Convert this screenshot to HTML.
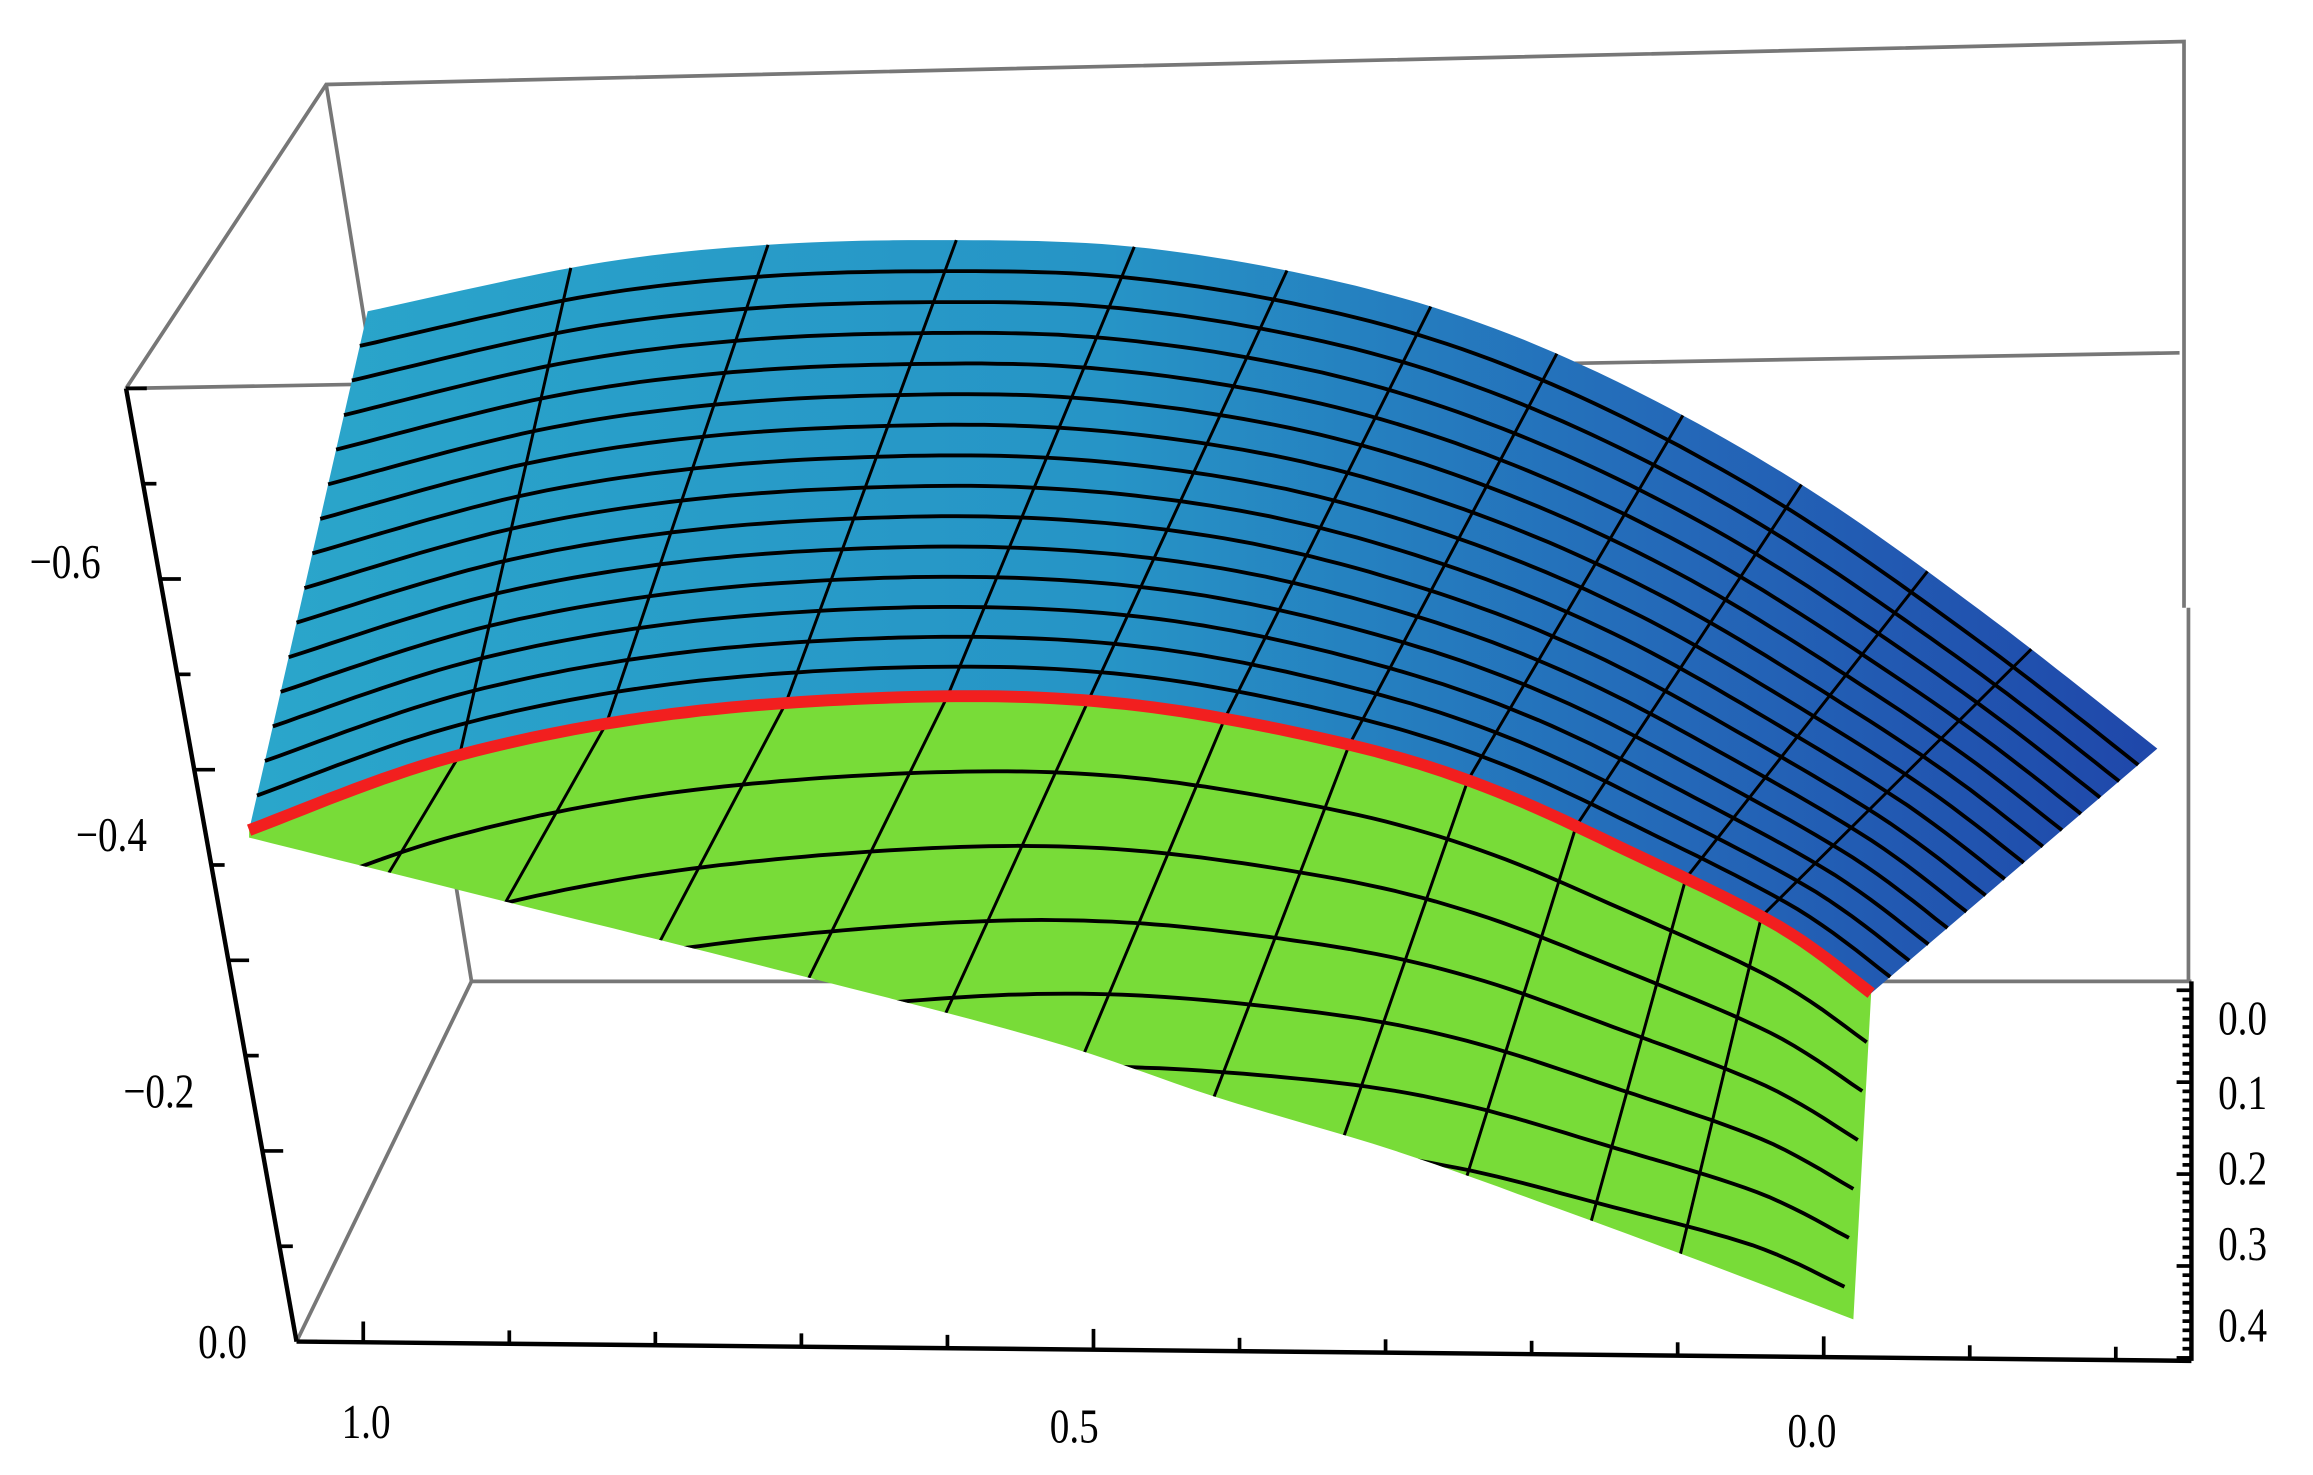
<!DOCTYPE html>
<html><head><meta charset="utf-8"><style>
html,body{margin:0;padding:0;background:#fff;}
svg{display:block;}
text{font-family:"Liberation Serif",serif;font-size:33px;fill:#000;}
</style></head><body>
<svg id="s" width="2313" height="1475" viewBox="0 0 1560 995" preserveAspectRatio="none" xmlns="http://www.w3.org/2000/svg">
<defs>
<linearGradient id="bg" x1="0" y1="0" x2="1" y2="0">
<stop offset="0" stop-color="#2aa6cb"/><stop offset="0.45" stop-color="#2694c6"/><stop offset="0.75" stop-color="#2468b8"/><stop offset="1" stop-color="#1f47aa"/>
</linearGradient>
<clipPath id="gc"><polygon id="gcp" points=""/></clipPath>
</defs>
<g stroke="#777" stroke-width="2.5" fill="none">
<polyline points="85,262 220,57 1473,28 1473,410"/>
<line x1="1476" y1="410" x2="1476" y2="662"/>
<line x1="85" y1="262" x2="1470" y2="238"/>
<line x1="220" y1="57" x2="318" y2="662"/>
<line x1="318" y1="662" x2="1478" y2="662"/>
<line x1="318" y1="662" x2="200" y2="905"/>
</g>
<g id="surf"></g>
<g stroke="#000" stroke-width="3" fill="none">
<line x1="85" y1="262" x2="200" y2="905"/>
<line x1="200" y1="905" x2="1478" y2="918"/>
<line x1="1478" y1="662" x2="1478" y2="918"/>
</g>
<g id="ticks" stroke="#000" stroke-width="2.5"></g>
<g transform="scale(0.8,1)">
<text x="25" y="390">−0.6</text>
<text x="64" y="574">−0.4</text>
<text x="104" y="747">−0.2</text>
<text x="167" y="916">0.0</text>
<text x="288" y="970">1.0</text>
<text x="885" y="973">0.5</text>
<text x="1507" y="976">0.0</text>
<text x="1870" y="698">0.0</text>
<text x="1870" y="748">0.1</text>
<text x="1870" y="799">0.2</text>
<text x="1870" y="850">0.3</text>
<text x="1870" y="905">0.4</text>
</g>
</svg>
<script>
(function(){
const NS="http://www.w3.org/2000/svg";
function cr(p,n){
  const o=[];const m=p.length-1;
  for(let i=0;i<m;i++){const p0=p[Math.max(i-1,0)],p1=p[i],p2=p[i+1],p3=p[Math.min(i+2,m)];
    for(let j=0;j<n;j++){const t=j/n,t2=t*t,t3=t2*t;
      o.push([0,1].map(k=>0.5*((2*p1[k])+(-p0[k]+p2[k])*t+(2*p0[k]-5*p1[k]+4*p2[k]-p3[k])*t2+(-p0[k]+3*p1[k]-3*p2[k]+p3[k])*t3)));}}
  o.push(p[m]);return o;}
function resample(pts,n){let L=[0];for(let i=1;i<pts.length;i++)L.push(L[i-1]+Math.hypot(pts[i][0]-pts[i-1][0],pts[i][1]-pts[i-1][1]));
 const o=[];for(let s=0;s<=n;s++){let d=s/n*L[L.length-1];let i=1;while(i<pts.length-1&&L[i]<d)i++;let f=(d-L[i-1])/((L[i]-L[i-1])||1);o.push([pts[i-1][0]+f*(pts[i][0]-pts[i-1][0]),pts[i-1][1]+f*(pts[i][1]-pts[i-1][1])]);}return o;}
function yAt(pts,x){for(let i=1;i<pts.length;i++){if(x<=pts[i][0]){const f=(x-pts[i-1][0])/((pts[i][0]-pts[i-1][0])||1);return pts[i-1][1]+f*(pts[i][1]-pts[i-1][1]);}}return pts[pts.length-1][1];}
const topC=cr([[248,210],[400,178],[520,165],[640,162],[760,166],[880,185],[990,215],[1100,262],[1220,330],[1340,415],[1455,505]],8);
const redC=cr([[168,560],[300,512],[450,482],[620,470],[760,475],[900,500],[1000,530],[1100,575],[1200,625],[1262,670]],8);
const botC=cr([[168,565],[360,613],[500,648],[700,700],[820,740],[940,776],[1050,815],[1145,850],[1250,890]],8);
const N=120;const T=resample(topC,N),R=resample(redC,N);
const g=document.getElementById('surf');
const ptsStr=a=>a.map(q=>q[0].toFixed(1)+','+q[1].toFixed(1)).join(' ');
function poly(a,b,fill){const p=document.createElementNS(NS,'polygon');p.setAttribute('points',ptsStr(a.concat(b.slice().reverse())));p.setAttribute('fill',fill);g.appendChild(p);}
const greenPoly=R.concat(botC.slice().reverse());
const gp=document.createElementNS(NS,'polygon');gp.setAttribute('points',ptsStr(greenPoly));gp.setAttribute('fill','#78dc38');g.appendChild(gp);
document.getElementById('gcp').setAttribute('points',ptsStr(greenPoly));
poly(R,T,'url(#bg)');
function line(pts,w,c,clip){const p=document.createElementNS(NS,'polyline');p.setAttribute('points',ptsStr(pts));p.setAttribute('fill','none');p.setAttribute('stroke',c);p.setAttribute('stroke-width',w);if(clip)p.setAttribute('clip-path',clip);g.appendChild(p);}
function mix(A,Bc,s){return A.map((a,i)=>[a[0]+(Bc[i][0]-a[0])*s,a[1]+(Bc[i][1]-a[1])*s]);}
for(let k=1;k<15;k++)line(mix(T,R,k/15),2.6,'#000');
for(let k=1;k<=8;k++){
  const arc=R.map((p,i)=>{const t=i/N;const dy=(55-22*t*t)*k;return [p[0]-3*k,p[1]+dy];});
  line(arc,2.6,'#000','url(#gc)');
}
const tops=[385,518,645,765,868,965,1050,1135,1215,1300,1370];
const bots=[310,409,530,639,734,826,910,990,1063,1137,1188];
for(let i=0;i<tops.length;i++){
  const a=[tops[i],yAt(T,tops[i])],b=[bots[i],yAt(R,bots[i])];
  line([a,b],2,'#000');
  const t=i/(tops.length-1);const sl=-0.6+0.36*t;
  line([b,[b[0]+sl*300,b[1]+300]],2,'#000','url(#gc)');
}
line(R,8,'#f21f1f');
const tk=document.getElementById('ticks');
function L(x1,y1,x2,y2){const l=document.createElementNS(NS,'line');l.setAttribute('x1',x1);l.setAttribute('y1',y1);l.setAttribute('x2',x2);l.setAttribute('y2',y2);tk.appendChild(l);}
for(let i=0;i<=10;i++){const f=i/10;const x=85+(200-85)*f,y=262+(905-262)*f;L(x,y,x+(i%2==0?14:9),y);}
for(let i=0;i<=12;i++){const x=245+i*98.5;const y=905+(x-200)*13/1278;L(x,y,x,y-(i%5==0?14:9));}
for(let i=0;i<=40;i++){const y=668+i*6.2;L(1478,y,1478-(i%10==0?10:6),y);}
})();
</script>
</body></html>
